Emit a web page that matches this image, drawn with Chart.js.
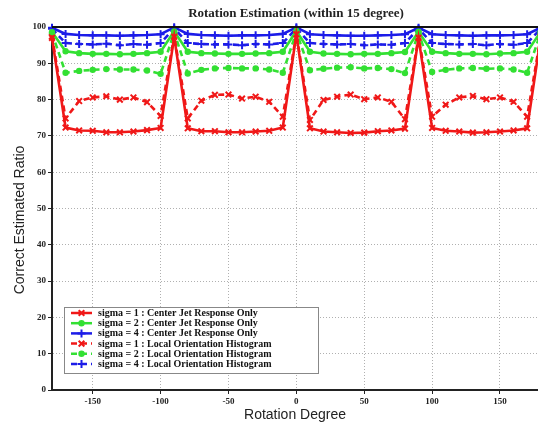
<!DOCTYPE html>
<html>
<head>
<meta charset="utf-8">
<script src="https://cdn.jsdelivr.net/npm/chart.js@4/dist/chart.umd.min.js"></script>
<style>
  html, body { margin: 0; padding: 0; background: #fff; }
  #wrap { width: 538px; height: 426px; }
</style>
</head>
<body>
<div id="wrap"><canvas id="chart" width="538" height="426"></canvas></div>
<script>
// rotation degrees, every 10 deg
const degrees = [-180,-170,-160,-150,-140,-130,-120,-110,-100,-90,-80,-70,-60,-50,-40,-30,-20,-10,0,
                 10,20,30,40,50,60,70,80,90,100,110,120,130,140,150,160,170,180];
const xTicks = [-150, -100, -50, 0, 50, 100, 150];

// Center Jet Response Only
const cjrSigma1 = [97.0, 72.3,71.5,71.4,71.0,71.0,71.2,71.6,72.2, 97.3, 72.1,71.3,71.3,71.0,71.0,71.2,71.4,72.3, 98.0,
                   72.1,71.2,71.0,70.8,70.9,71.3,71.5,72.0, 97.0, 72.2,71.4,71.2,70.9,71.0,71.2,71.5,72.1, 97.2];
const cjrSigma2 = [98.6, 93.3,92.8,92.6,92.6,92.5,92.6,92.8,93.2, 98.8, 93.2,92.8,92.7,92.6,92.6,92.7,92.8,93.2, 98.9,
                   93.2,92.7,92.6,92.5,92.6,92.6,92.8,93.1, 98.7, 93.2,92.8,92.6,92.6,92.5,92.7,92.8,93.2, 98.7];
const cjrSigma4 = [99.8, 98.1,97.8,97.7,97.7,97.6,97.7,97.8,98.0, 99.9, 98.1,97.8,97.7,97.6,97.7,97.7,97.8,98.1, 99.9,
                   98.0,97.8,97.7,97.6,97.6,97.7,97.8,98.0, 99.8, 98.0,97.8,97.7,97.6,97.7,97.7,97.8,98.0, 99.8];

// Local Orientation Histogram
const lohSigma1 = [97.4, 74.8,79.6,80.6,80.9,80.0,80.6,79.3,75.5, 97.6, 74.8,79.7,81.3,81.4,80.3,80.8,79.4,75.3, 98.2,
                   74.4,79.9,80.8,81.4,80.1,80.6,79.4,74.6, 97.3, 75.3,78.6,80.6,81.0,80.1,80.6,79.4,75.3, 97.4];
const lohSigma2 = [98.3, 87.4,87.9,88.2,88.4,88.3,88.3,88.0,87.1, 98.5, 87.2,88.2,88.6,88.7,88.6,88.6,88.3,87.4, 98.6,
                   88.1,88.5,88.8,88.9,88.6,88.7,88.4,87.3, 98.4, 87.6,88.2,88.6,88.7,88.5,88.6,88.3,87.4, 98.4];
const lohSigma4 = [99.5, 95.6,95.3,95.2,95.4,95.0,95.3,95.1,95.6, 99.6, 95.6,95.3,95.2,95.2,95.0,95.3,95.2,95.6, 99.6,
                   95.6,95.3,95.2,95.3,95.0,95.2,95.1,95.6, 99.5, 95.6,95.3,95.2,95.3,95.0,95.3,95.1,95.6, 99.5];

const red = '#f01818', green = '#33e033', blue = '#1c1ce8';

function series(label, values, color, dashed, style) {
  return {
    label: label,
    data: degrees.map((d, i) => ({ x: d, y: values[i] })),
    borderColor: color,
    backgroundColor: color,
    borderWidth: 2.6,
    borderDash: dashed ? [6, 4] : [],
    pointStyle: style,
    pointRadius: style === 'circle' ? 2.2 : 4,
    pointBorderWidth: 2,
    pointBorderColor: color,
    pointBackgroundColor: color,
    tension: 0,
    clip: false
  };
}

const legendBox = {
  id: 'legendBox',
  afterDraw(chart) {
    const ctx = chart.ctx;
    const area = chart.chartArea;
    ctx.save();
    // top frame line
    ctx.strokeStyle = '#111';
    ctx.lineWidth = 2;
    ctx.beginPath();
    ctx.moveTo(area.left, area.top);
    ctx.lineTo(area.right, area.top);
    ctx.stroke();

    // title, centred over the plot area
    ctx.fillStyle = '#222';
    ctx.font = 'bold 13px "Liberation Serif", "Times New Roman", serif';
    ctx.textAlign = 'center';
    ctx.textBaseline = 'middle';
    ctx.fillText('Rotation Estimation (within 15 degree)', (area.left + area.right) / 2 + 1, 14);

    // y axis title
    ctx.save();
    ctx.translate(20, 220);
    ctx.rotate(-Math.PI / 2);
    ctx.font = '14px "Liberation Sans", Arial, sans-serif';
    ctx.fillText('Correct Estimated Ratio', 0, 0);
    ctx.restore();

    // legend
    ctx.fillStyle = '#fff';
    ctx.fillRect(64, 307, 254, 66);
    ctx.strokeStyle = '#888';
    ctx.lineWidth = 1;
    ctx.strokeRect(64.5, 307.5, 254, 66);
    chart.data.datasets.forEach((ds, i) => {
      const y = 313 + i * 10.2;
      ctx.strokeStyle = ds.borderColor;
      ctx.lineWidth = 2.5;
      ctx.setLineDash(ds.borderDash);
      ctx.beginPath();
      ctx.moveTo(71, y);
      ctx.lineTo(92, y);
      ctx.stroke();
      ctx.setLineDash([]);
      ctx.fillStyle = ds.borderColor;
      ctx.lineWidth = 2;
      Chart.helpers.drawPoint(ctx, { pointStyle: ds.pointStyle, radius: ds.pointRadius, rotation: 0, borderWidth: 2 }, 81.5, y);
      ctx.fillStyle = '#111';
      ctx.font = 'bold 10px "Liberation Serif", "Times New Roman", serif';
      ctx.textAlign = 'left';
      ctx.textBaseline = 'middle';
      ctx.fillText(ds.label, 98, y + 0.5);
    });
    ctx.restore();
  }
};

const tickFont = { family: '"Liberation Serif", "Times New Roman", serif', size: 9, weight: 'bold' };

new Chart(document.getElementById('chart'), {
  type: 'line',
  data: {
    datasets: [
      series('sigma = 1 : Center Jet Response Only', cjrSigma1, red, false, 'crossRot'),
      series('sigma = 2 : Center Jet Response Only', cjrSigma2, green, false, 'circle'),
      series('sigma = 4 : Center Jet Response Only', cjrSigma4, blue, false, 'cross'),
      series('sigma = 1 : Local Orientation Histogram', lohSigma1, red, true, 'crossRot'),
      series('sigma = 2 : Local Orientation Histogram', lohSigma2, green, true, 'circle'),
      series('sigma = 4 : Local Orientation Histogram', lohSigma4, blue, true, 'cross')
    ]
  },
  options: {
    responsive: false,
    animation: false,
    layout: { padding: { top: 27, left: 0, right: 0, bottom: 0 }, autoPadding: false },
    plugins: {
      legend: { display: false },
      tooltip: { enabled: false },
      title: { display: false }
    },
    scales: {
      x: {
        type: 'linear',
        min: -180,
        max: 178,
        afterBuildTicks: (scale) => { scale.ticks = xTicks.map(v => ({ value: v })); },
        afterFit: (scale) => { scale.height = 36; scale.paddingLeft = 0; scale.paddingRight = 0; },
        ticks: { color: '#222', font: tickFont, padding: 2, maxRotation: 0, includeBounds: false },
        grid: { color: '#b0b0b0', tickColor: '#222', tickLength: 4, tickBorderDash: [] },
        border: { color: '#222', width: 2, dash: [1, 2] },
        title: {
          display: true,
          text: 'Rotation Degree',
          color: '#222',
          font: { family: '"Liberation Sans", Arial, sans-serif', size: 14 },
          padding: { top: 0, bottom: 2 }
        }
      },
      y: {
        min: 0,
        max: 100,
        afterFit: (scale) => { scale.width = 52; scale.paddingTop = 0; scale.paddingBottom = 0; },
        ticks: { stepSize: 10, color: '#222', font: tickFont, padding: 2 },
        grid: { color: '#b0b0b0', tickColor: '#222', tickLength: 4, tickBorderDash: [] },
        border: { color: '#222', width: 2, dash: [1, 2] }
      }
    }
  },
  plugins: [legendBox]
});
</script>
</body>
</html>
